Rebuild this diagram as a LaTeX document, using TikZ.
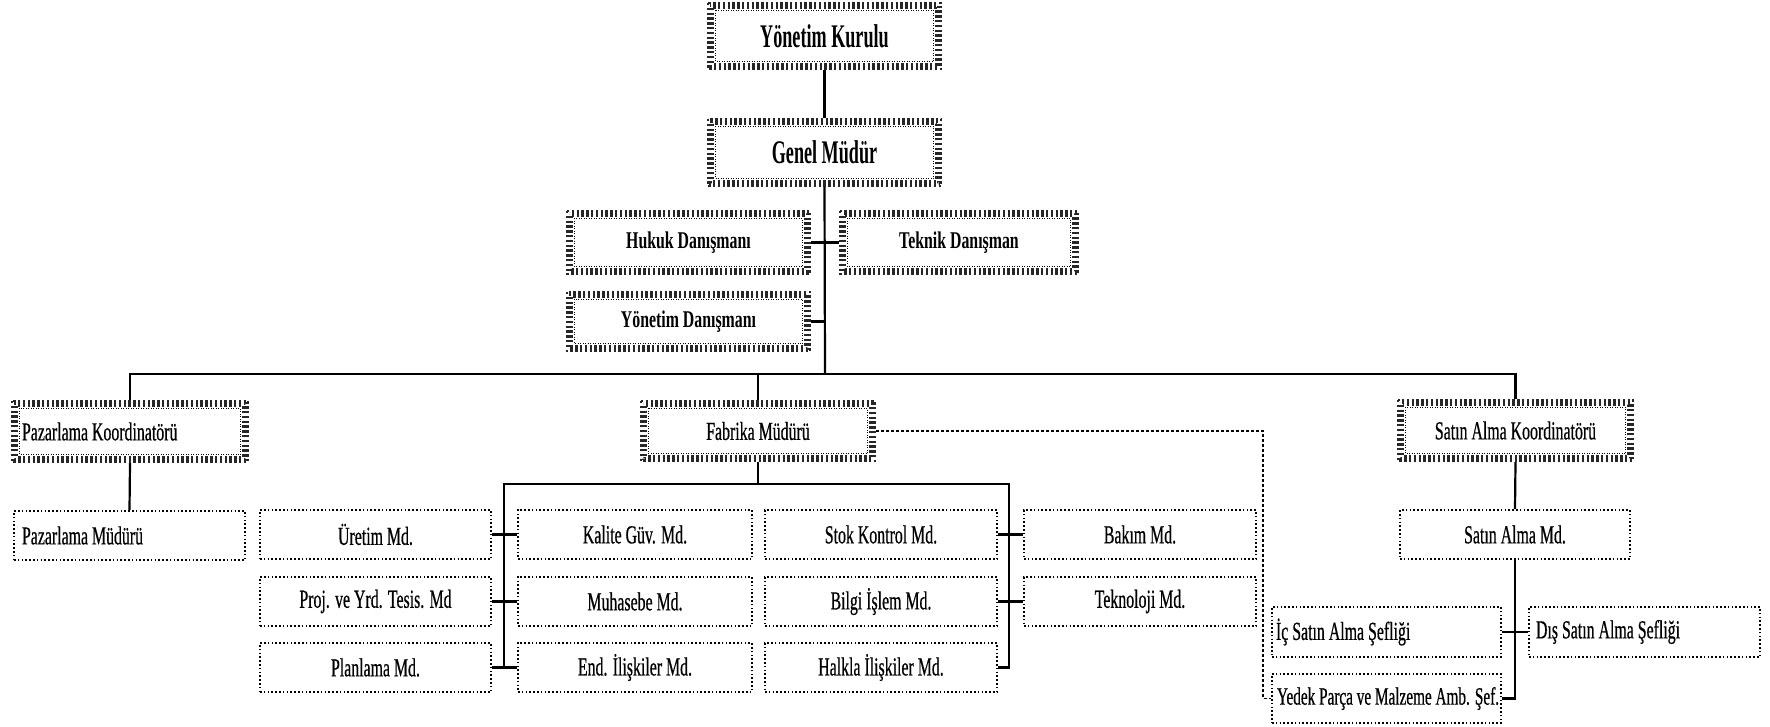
\documentclass[tikz,border=0pt]{standalone}
\usepackage{fontspec}
\setmainfont{Liberation Serif}[FakeStretch=0.61,FakeBold=0.5]
\newfontfamily\hdfont{Liberation Serif}[FakeStretch=0.55]
\newfontfamily\dnfont{Liberation Serif}[FakeStretch=0.66]
\newcommand\bigbold{\hdfont\bfseries\fontsize{33}{36}\selectfont}
\newcommand\danbold{\dnfont\bfseries\fontsize{24}{28}\selectfont}
\newcommand\regtext{\fontsize{26}{30}\selectfont}
\newcommand\lbox[2]{\makebox[#1][l]{#2}}
\newcommand\chkframe[1]{%
  \draw[chkA] ([shift={(1.2pt,-1.2pt)}]#1.north west) rectangle ([shift={(-1.2pt,1.2pt)}]#1.south east);
  \draw[chkB] ([shift={(3.6pt,-3.6pt)}]#1.north west) rectangle ([shift={(-3.6pt,3.6pt)}]#1.south east);
  \draw[chkA] ([shift={(6.0pt,-6.0pt)}]#1.north west) rectangle ([shift={(-6.0pt,6.0pt)}]#1.south east);
  \draw[chkIn] ([shift={(8.6pt,-8.6pt)}]#1.north west) rectangle ([shift={(-8.6pt,8.6pt)}]#1.south east);
}
\begin{document}
\begin{tikzpicture}[x=1pt,y=-1pt,
  heavy/.style={rectangle, inner sep=0pt, font=\regtext},
  lite/.style={rectangle, inner ysep=0pt, inner xsep=6pt, draw, line width=1.6pt,
    dash pattern=on 1.6pt off 2.2pt, font=\regtext},
  chkA/.style={line width=2.4pt, dash pattern=on 2.4pt off 2.4pt, black!85},
  chkB/.style={chkA, dash phase=2.4pt},
  chkIn/.style={line width=0.9pt, dash pattern=on 1pt off 1.5pt},
  conn/.style={line width=2.2pt},
  dconn/.style={line width=1.5pt, dash pattern=on 3pt off 2pt}]
\useasboundingbox (0,0) rectangle (1770,726);
\fill[white] (0,0) rectangle (1770,726);

% top level
\node[heavy, minimum width=235pt, minimum height=68pt, font=\bigbold] (yk) at (824.5,36) {Yönetim Kurulu};
\node[heavy, minimum width=235pt, minimum height=69pt, font=\bigbold] (gm) at (824.5,152.5) {Genel Müdür};
\node[heavy, minimum width=245pt, minimum height=65pt, font=\danbold] (hd) at (688.5,242.5) {Hukuk Danışmanı};
\node[heavy, minimum width=240pt, minimum height=65pt, font=\danbold] (td) at (959,242.5) {Teknik Danışman};
\node[heavy, minimum width=245pt, minimum height=61pt, font=\danbold] (yd) at (688.5,321.5) {Yönetim Danışmanı};

% coordinators
\node[heavy, minimum width=238pt, minimum height=63pt, inner xsep=11pt] (pk) at (130,431.5) {\lbox{216pt}{Pazarlama Koordinatörü}};
\node[heavy, minimum width=236pt, minimum height=62pt] (fm) at (758,431) {Fabrika Müdürü};
\node[heavy, minimum width=237pt, minimum height=63pt] (sk) at (1515.5,430.5) {Satın Alma Koordinatörü};

% departments
\node[lite, minimum width=231pt, minimum height=49pt, inner xsep=8pt] (pm) at (129.5,535.5) {\lbox{215pt}{Pazarlama Müdürü}};

\node[lite, minimum width=231pt, minimum height=49pt] (ur) at (375.5,534.5) {Üretim Md.};
\node[lite, minimum width=234pt, minimum height=49pt] (kg) at (635,534.5) {Kalite Güv. Md.};
\node[lite, minimum width=232pt, minimum height=49pt] (sc) at (881,534.5) {Stok Kontrol Md.};
\node[lite, minimum width=232pt, minimum height=49pt] (bm) at (1140,534.5) {Bakım Md.};

\node[lite, minimum width=231pt, minimum height=49pt] (pr) at (375.5,601.5) {Proj. ve Yrd. Tesis. Md};
\node[lite, minimum width=234pt, minimum height=49pt] (mh) at (635,601.5) {Muhasebe Md.};
\node[lite, minimum width=232pt, minimum height=49pt] (bi) at (881,601.5) {Bilgi İşlem Md.};
\node[lite, minimum width=232pt, minimum height=49pt] (tk) at (1140,601.5) {Teknoloji Md.};

\node[lite, minimum width=231pt, minimum height=49pt] (pl) at (375.5,667.5) {Planlama Md.};
\node[lite, minimum width=234pt, minimum height=49pt] (ei) at (635,667.5) {End. İlişkiler Md.};
\node[lite, minimum width=232pt, minimum height=49pt] (hi) at (881,667.5) {Halkla İlişkiler Md.};

\node[lite, minimum width=230pt, minimum height=49pt] (sm) at (1515,534.5) {Satın Alma Md.};
\node[lite, minimum width=229pt, minimum height=50pt, inner xsep=4pt] (ic) at (1386.5,632) {\lbox{221pt}{İç Satın Alma Şefliği}};
\node[lite, minimum width=231pt, minimum height=50pt, inner xsep=7pt] (ds) at (1644.5,632) {\lbox{217pt}{Dış Satın Alma Şefliği}};
\node[lite, minimum width=229pt, minimum height=49pt, inner xsep=5pt, font=\fontsize{25}{28}\selectfont] (yp) at (1386.5,698.5) {\lbox{219pt}{Yedek Parça ve Malzeme Amb. Şef.}};

% heavy frames
\chkframe{yk}\chkframe{gm}\chkframe{hd}\chkframe{td}\chkframe{yd}
\chkframe{pk}\chkframe{fm}\chkframe{sk}

% coordinates
\coordinate (b0) at (825,374);
\coordinate (fb) at (758,484);
\coordinate (fl) at (504,484);
\coordinate (fr) at (1009,484);
\coordinate (dc) at (1263,698.5);

% connectors
\draw[conn] (yk.south) -- (gm.north);
\draw[conn] (gm.south) -- (b0);
\draw[conn] (hd.east) -- (td.west);
\draw[conn] (yd.east) -- (yd.east -| b0);
\draw[conn] (pk.north) -- (pk.north |- b0) -- (sk.north |- b0) -- (sk.north);
\draw[conn] (fm.north) -- (fm.north |- b0);
\draw[conn] (pk.south) -- (pm.north);

\draw[conn] (fm.south) -- (fb);
\draw[conn] (fl |- pl.east) -- (fl) -- (fr) -- (fr |- hi.east) -- (hi.east);
\draw[conn] (ur.east) -- (kg.west);
\draw[conn] (pr.east) -- (mh.west);
\draw[conn] (pl.east) -- (ei.west);
\draw[conn] (sc.east) -- (bm.west);
\draw[conn] (bi.east) -- (tk.west);

\draw[conn] (sk.south) -- (sm.north);
\draw[conn] (sm.south) -- (sm.south |- yp.east) -- (yp.east);
\draw[conn] (ic.east) -- (ds.west);

\draw[dconn] (fm.east) -| (dc) -- (yp.west);
\end{tikzpicture}
\end{document}
